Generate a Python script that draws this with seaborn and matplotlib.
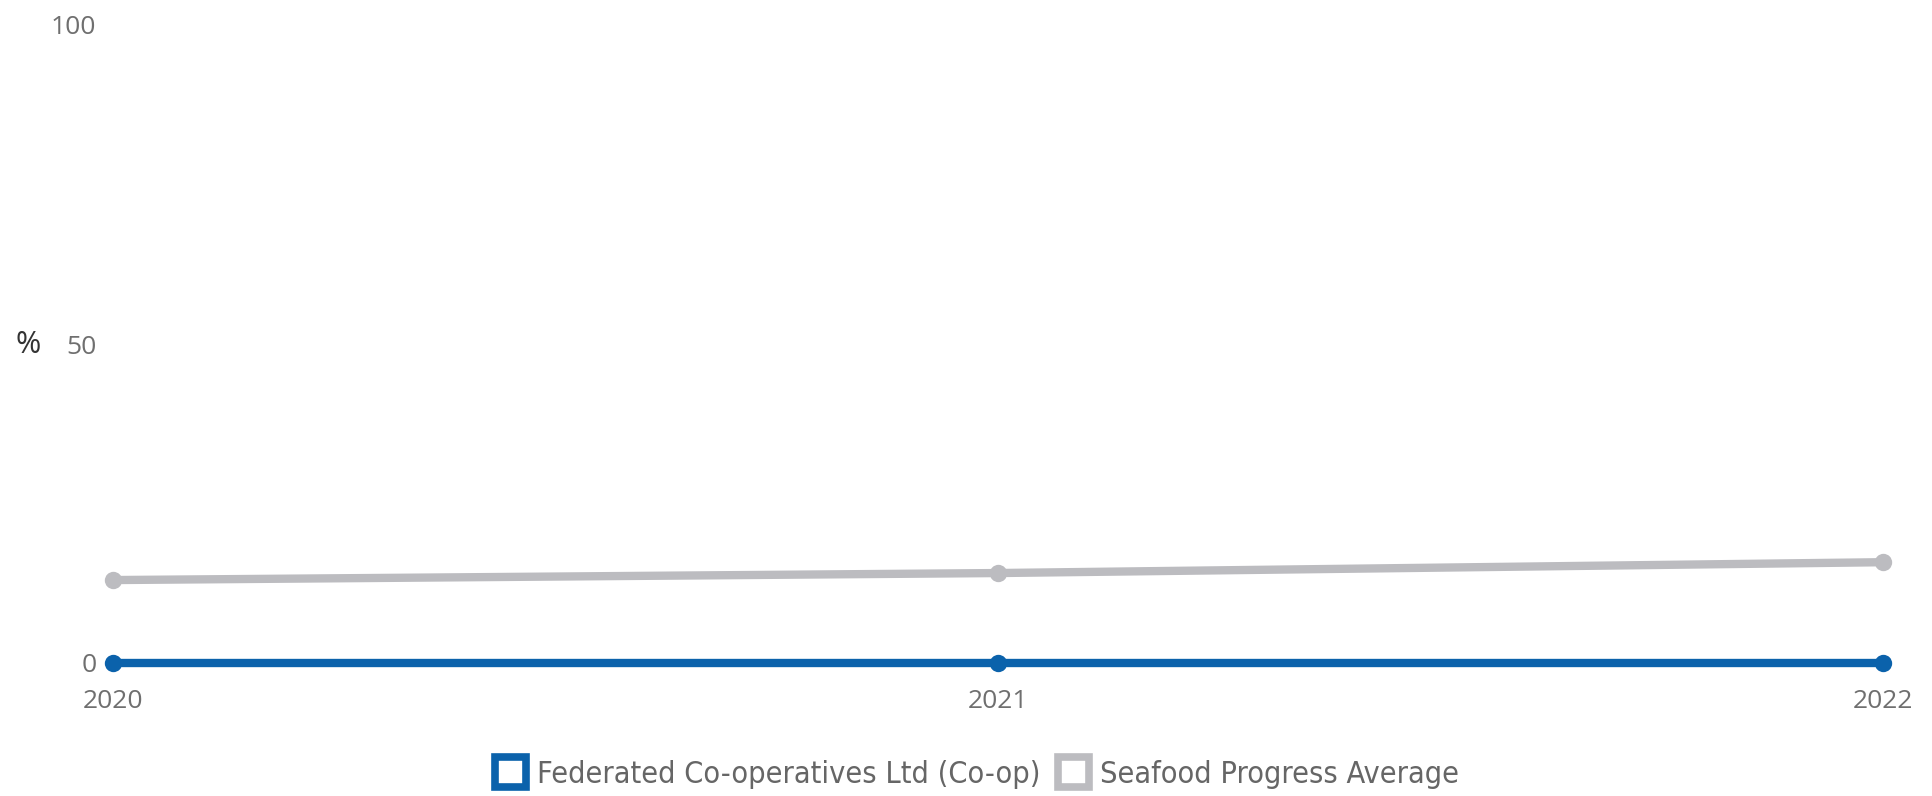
import matplotlib
matplotlib.use("Agg")
import matplotlib.pyplot as plt
from matplotlib.patches import Patch
import pandas as pd
import seaborn as sns

# Data
years = [2020, 2021, 2022]
coop_values = [0, 0, 0]
average_values = [13.0, 14.1, 15.8]
series_names = ["Federated Co-operatives Ltd (Co-op)", "Seafood Progress Average"]
series_colors = ["#0b62ab", "#bcbcc0"]
y_ticks = [0, 50, 100]

df = pd.DataFrame({
    "year": years * 2,
    "value": coop_values + average_values,
    "series": [series_names[0]] * len(years) + [series_names[1]] * len(years),
})

sns.set_theme(style="white")
plt.rcParams["font.family"] = ["Open Sans", "DejaVu Sans"]

fig = plt.figure(figsize=(19.32, 7.96), dpi=100)
ax = fig.add_axes([113 / 1932, 133 / 796, (1883 - 113) / 1932, 638 / 796])

# draw the average first so the company line sits on top
order = [series_names[1], series_names[0]]
for name in order:
    color = series_colors[series_names.index(name)]
    sub = df[df["series"] == name]
    sns.lineplot(data=sub, x="year", y="value", ax=ax, color=color,
                 linewidth=6, marker="o", markersize=12.5, markeredgewidth=0,
                 legend=False, clip_on=False)

ax.set_xlim(2020, 2022)
ax.set_ylim(0, 100)
ax.set_xticks(years)
ax.set_xticklabels([str(y) for y in years])
ax.set_yticks(y_ticks)
ax.set_yticklabels([str(t) for t in y_ticks])
ax.tick_params(axis="both", length=0, labelsize=19, colors="#6f6f6f")
ax.tick_params(axis="y", pad=12)
ax.tick_params(axis="x", pad=19)
ax.set_xlabel("")
ax.set_ylabel("")
for s in ax.spines.values():
    s.set_visible(False)
ax.grid(False)

fig.text(28 / 1932, 1 - 345 / 796, "%", fontsize=22, color="#333333",
         ha="center", va="center")

handles = [Patch(facecolor="white", edgecolor=c, linewidth=5.5) for c in series_colors]
leg = fig.legend(handles, series_names, loc="center", bbox_to_anchor=(977 / 1932, 1 - 773 / 796),
                 ncol=2, frameon=False, handlelength=1.0, handleheight=1.1,
                 handletextpad=0.35, columnspacing=0.6,
                 prop={"family": "DejaVu Sans", "stretch": "condensed", "size": 22})
for t in leg.get_texts():
    t.set_color("#666666")

fig.savefig("out.png", dpi=100)
